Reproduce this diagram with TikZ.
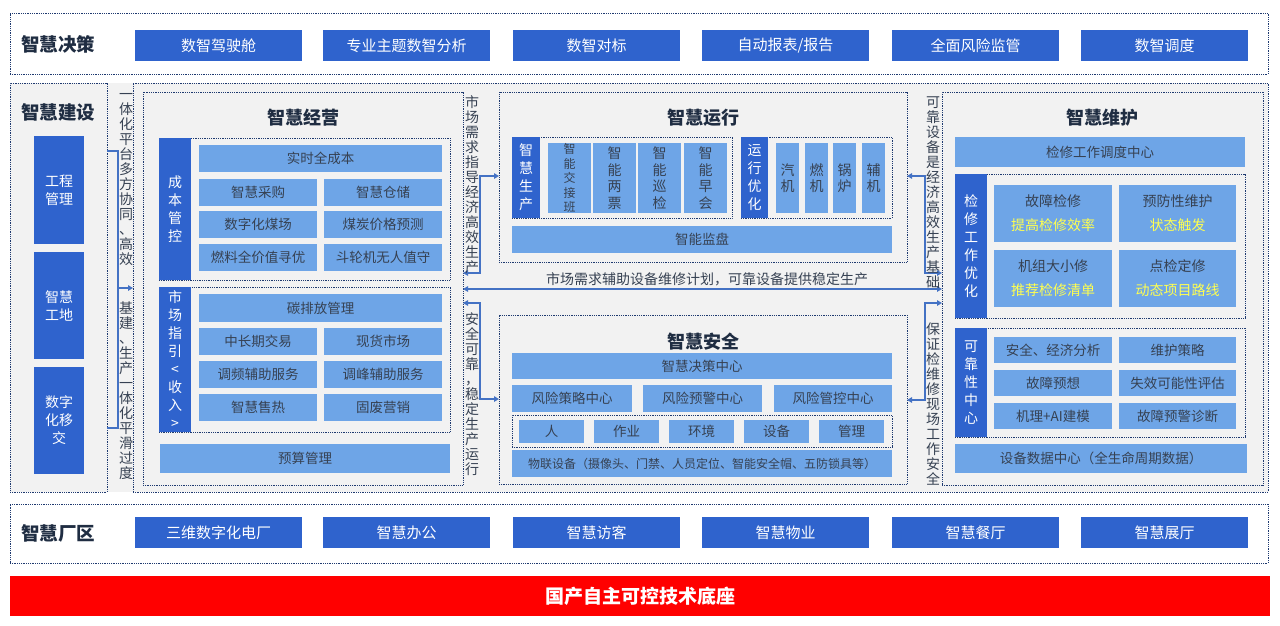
\documentclass[tikz,border=0pt]{standalone}
\usepackage{fontspec}
\setmainfont{Noto Sans CJK SC}
\usepackage{xcolor}
\usepackage{tikz}
\usetikzlibrary{arrows.meta,calc}

\definecolor{dkblue}{HTML}{2F63CD}
\definecolor{ltblue}{HTML}{6EA5E7}
\definecolor{navy}{HTML}{1F3A70}
\definecolor{bggray}{HTML}{F2F2F2}
\definecolor{txtgray}{HTML}{364152}
\definecolor{ttlcol}{HTML}{1F2D42}
\definecolor{linkblue}{HTML}{4472C4}
\definecolor{yel}{HTML}{FFFF4F}
\definecolor{basered}{HTML}{FF0000}

% stack characters one per line
\makeatletter
\newcommand\vstack[1]{\vst@ck#1\@nil}
\def\vst@ck#1#2\@nil{#1\ifx\relax#2\relax\else\\\vst@ck#2\@nil\fi}
\makeatother
\newcommand\vstackof[1]{\expandafter\vstack\expandafter{#1}}

% box from corner (x1,y1) to (x2,y2): name, style, x1, y1, x2, y2, text
\newcommand{\bx}[7]{\node[#2, minimum width={(#5)-(#3)}, minimum height={(#6)-(#4)}] (#1) at ({((#3)+(#5))/2},{((#4)+(#6))/2}) {#7};}

\tikzset{
  frame/.style={draw=navy, line width=0.9pt, dash pattern=on 0.9pt off 0.9pt, inner sep=0pt, outer sep=0pt},
  dbox/.style={fill=dkblue, text=white, font=\fontsize{15}{17}\selectfont, inner sep=0pt, outer sep=0pt, align=center},
  lbox/.style={fill=ltblue, text=txtgray, font=\fontsize{13.5}{16}\selectfont, inner sep=0pt, outer sep=0pt, align=center},
  strip/.style={fill=dkblue, text=white, font=\fontsize{14}{18}\selectfont, inner sep=0pt, outer sep=0pt, align=center},
  seclbl/.style={text=ttlcol, font=\bfseries\fontsize{18.5}{21}\selectfont},
  ttl/.style={text=ttlcol, font=\bfseries\fontsize{18}{20}\selectfont},
  vlbl/.style={text=txtgray, font=\fontsize{14}{15}\selectfont, align=center, inner sep=0pt},
  link/.style={draw=linkblue, line width=1.3pt}
}

\begin{document}
\begin{tikzpicture}[x=1pt, y=-1pt, >={Triangle[length=5pt,width=5.5pt]}]
  \useasboundingbox (0,0) rectangle (1280,625);

  % Decision layer
  \bx{jcfr}{frame, fill=white}{10}{13}{1268}{74}{}
  \node[seclbl] (jc) at (58,44) {智慧决策};
  \foreach \x/\lab [count=\i] in {135/数智驾驶舱, 323/专业主题数智分析, 513/数智对标, 702/{自动报表/报告}, 892/全面风险监管, 1081/数智调度} {
    \bx{jc\i}{dbox}{\x}{30}{\x+167}{61}{\lab}
  }

  % Middle background
  \fill[bggray] (10,83) rectangle (1268,492);

  % Construction
  \bx{jsfr}{frame}{10}{83}{107}{492}{}
  \node[seclbl] (js) at (58,112) {智慧建设};
  \bx{js1}{strip}{34}{136}{84}{244}{工程\\管理}
  \bx{js2}{strip}{34}{252}{84}{359}{智慧\\工地}
  \bx{js3}{strip}{34}{367}{84}{474}{数字\\化移\\交}

  \bx{mainfr}{frame}{133}{83}{1268}{492}{}
  \draw[link] (jsfr.east |- 0,151) -- (118,151) -- (118,428) -- (jsfr.east |- 0,428);
  \draw[link,->] (118,288) -- (mainfr.west |- 0,288);
  \node[vlbl] (jsv1) at (126,180) {\vstack{一体化平台多方协同、高效}};
  \node[vlbl] (jsv2) at (126,391) {\vstack{基建、生产一体化平滑过度}};

  % Operation management
  \bx{jyfr}{frame}{143}{92}{463}{485}{}
  \node[ttl] (jy) at (303,118) {智慧经营};
  \bx{cbfr}{frame}{159}{138}{450}{280}{}
  \bx{cbst}{strip}{159}{138}{191}{280}{\vstack{成本管控}}
  \bx{cb0}{lbox}{199}{145}{442}{172}{实时全成本}
  \foreach \y/\a/\b [count=\i] in {179/智慧采购/智慧仓储, 211/数字化煤场/煤炭价格预测, 244/燃料全价值寻优/斗轮机无人值守} {
    \bx{cb\i a}{lbox}{199}{\y}{317}{\y+27}{\a}
    \bx{cb\i b}{lbox}{324}{\y}{442}{\y+27}{\b}
  }
  \bx{scfr}{frame}{159}{287}{450}{432}{}
  \bx{scst}{strip}{159}{287}{191}{432}{\vstack{市场指引<收入>}}
  \bx{sc0}{lbox}{199}{294}{442}{322}{碳排放管理}
  \foreach \y/\a/\b [count=\i] in {328/中长期交易/现货市场, 361/调频辅助服务/调峰辅助服务, 394/智慧售热/固废营销} {
    \bx{sc\i a}{lbox}{199}{\y}{317}{\y+27}{\a}
    \bx{sc\i b}{lbox}{324}{\y}{442}{\y+27}{\b}
  }
  \bx{ys}{lbox}{160}{444}{450}{473}{预算管理}

  % Operation
  \bx{yxfr}{frame}{499}{92}{907}{262}{}
  \node[ttl] (yx) at (703,118) {智慧运行};
  \bx{scfr2}{frame}{512}{137}{732}{218}{}
  \bx{scst2}{strip}{512}{137}{540}{218}{\vstack{智慧生产}}
  \bx{sp1}{lbox, font=\fontsize{12}{14.5}\selectfont}{548}{143}{591}{213}{\vstack{智能交接班}}
  \foreach \x/\lab [count=\i from 2] in {593/智能两票, 638/智能巡检, 684/智能早会} {
    \bx{sp\i}{lbox, font=\fontsize{14}{16.5}\selectfont}{\x}{143}{\x+43}{213}{\vstackof{\lab}}
  }
  \bx{yhfr}{frame}{741}{137}{892}{218}{}
  \bx{yhst}{strip}{741}{137}{768}{218}{\vstack{运行优化}}
  \foreach \x/\lab [count=\i] in {776/汽机, 805/燃机, 833/锅炉, 862/辅机} {
    \bx{yh\i}{lbox, font=\fontsize{14}{16}\selectfont}{\x}{143}{\x+23}{213}{\vstackof{\lab}}
  }
  \bx{jp}{lbox}{512}{226}{892}{253}{智能监盘}

  % Safety
  \bx{aqfr}{frame}{499}{315}{907}{484}{}
  \node[ttl] (aq) at (703,342) {智慧安全};
  \bx{jczx}{lbox}{512}{353}{892}{379}{智慧决策中心}
  \bx{fx1}{lbox}{512}{385}{632}{412}{风险策略中心}
  \bx{fx2}{lbox}{643}{385}{762}{412}{风险预警中心}
  \bx{fx3}{lbox}{774}{385}{892}{412}{风险管控中心}
  \bx{ysfr}{frame}{512}{415}{892}{447}{}
  \foreach \x/\lab [count=\i] in {519/人, 594/作业, 669/环境, 744/设备, 819/管理} {
    \bx{ys\i}{lbox}{\x}{420}{\x+65}{443}{\lab}
  }
  \bx{wl}{lbox, font=\fontsize{12}{14}\selectfont}{512}{450}{892}{477}{物联设备（摄像头、门禁、人员定位、智能安全帽、五防锁具等）}

  % Maintenance
  \bx{whfr}{frame}{942}{92}{1263}{485}{}
  \node[ttl] (wh) at (1102,118) {智慧维护};
  \bx{dd}{lbox}{955}{137}{1245}{167}{检修工作调度中心}
  \bx{jxfr}{frame}{955}{174}{1245}{318}{}
  \bx{jxst}{strip}{955}{174}{987}{318}{\vstack{检修工作优化}}
  \bx{jx1}{lbox, font=\fontsize{14}{24}\selectfont}{994}{185}{1112}{242}{故障检修\\\textcolor{yel}{提高检修效率}}
  \bx{jx2}{lbox, font=\fontsize{14}{24}\selectfont}{1119}{185}{1236}{242}{预防性维护\\\textcolor{yel}{状态触发}}
  \bx{jx3}{lbox, font=\fontsize{14}{24}\selectfont}{994}{250}{1112}{307}{机组大小修\\\textcolor{yel}{推荐检修清单}}
  \bx{jx4}{lbox, font=\fontsize{14}{24}\selectfont}{1119}{250}{1236}{307}{点检定修\\\textcolor{yel}{动态项目路线}}
  \bx{kkfr}{frame}{955}{328}{1245}{437}{}
  \bx{kkst}{strip}{955}{328}{987}{437}{\vstack{可靠性中心}}
  \foreach \y/\a/\b [count=\i] in {337/安全、经济分析/维护策略, 370/故障预想/失效可能性评估, 403/机理+AI建模/故障预警诊断} {
    \bx{kk\i a}{lbox}{994}{\y}{1112}{\y+26}{\a}
    \bx{kk\i b}{lbox}{1119}{\y}{1236}{\y+26}{\b}
  }
  \bx{sj}{lbox}{955}{444}{1247}{473}{设备数据中心（全生命周期数据）}

  % Links between blocks
  \draw[link,<->] (jyfr.east |- 0,273) -- (480,273) -- (480,176) -- (yxfr.west |- 0,176);
  \draw[link,<->] (jyfr.east |- 0,289) -- (whfr.west |- 0,289);
  \draw[link,<->] (jyfr.east |- 0,303) -- (480,303) -- (480,399) -- (aqfr.west |- 0,399);
  \draw[link,<->] (yxfr.east |- 0,176) -- (925,176) -- (925,273) -- (whfr.west |- 0,273);
  \draw[link,<->] (whfr.west |- 0,303) -- (925,303) -- (925,400) -- (aqfr.east |- 0,400);
  \node[vlbl] (lk1) at (472,185) {\vstack{市场需求指导经济高效生产}};
  \node[vlbl] (lk2) at (472,394) {\vstack{安全可靠，稳定生产运行}};
  \node[vlbl] (lk3) at (933,193) {\vstack{可靠设备是经济高效生产基础}};
  \node[vlbl] (lk4) at (933,404) {\vstack{保证检维修现场工作安全}};
  \node[text=txtgray, font=\fontsize{14}{16}\selectfont] (lk5) at (707,279) {市场需求辅助设备维修计划，可靠设备提供稳定生产};

  % Park layer
  \bx{cqfr}{frame, fill=white}{10}{504}{1268}{563}{}
  \node[seclbl] (cq) at (58,533) {智慧厂区};
  \foreach \x/\lab [count=\i] in {135/三维数字化电厂, 323/智慧办公, 513/智慧访客, 702/智慧物业, 892/智慧餐厅, 1081/智慧展厅} {
    \bx{cq\i}{dbox}{\x}{517}{\x+167}{548}{\lab}
  }

  % Base
  \bx{base}{fill=basered, text=white, font=\bfseries\fontsize{19}{21}\selectfont, inner sep=0pt}{10}{576}{1270}{616}{国产自主可控技术底座}
\end{tikzpicture}
\end{document}
